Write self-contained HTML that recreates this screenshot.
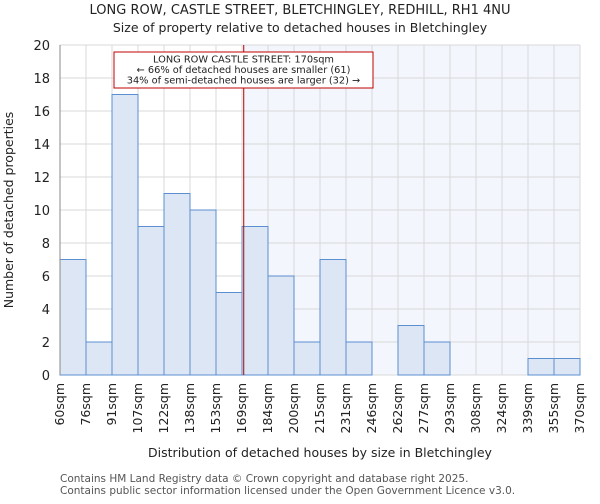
<!DOCTYPE html>
<html><head><meta charset="utf-8"><style>
body{margin:0;background:#fff;font-family:"DejaVu Sans","Liberation Sans",sans-serif}
svg text{font-family:"DejaVu Sans","Liberation Sans",sans-serif;fill:#222}
</style></head><body>
<svg id="chart" width="600" height="500" xmlns="http://www.w3.org/2000/svg">
<text x="300" y="14" text-anchor="middle" font-size="13">LONG ROW, CASTLE STREET, BLETCHINGLEY, REDHILL, RH1 4NU</text>
<text x="300" y="32" text-anchor="middle" font-size="12.5">Size of property relative to detached houses in Bletchingley</text>
<g id="plot"></g>
<text x="320" y="457" text-anchor="middle" font-size="12.5">Distribution of detached houses by size in Bletchingley</text>
<text transform="translate(13,210) rotate(-90)" text-anchor="middle" font-size="12.5">Number of detached properties</text>
<text x="60" y="482" font-size="10.5" style="fill:#555">Contains HM Land Registry data © Crown copyright and database right 2025.</text>
<text x="60" y="494" font-size="10.5" style="fill:#555">Contains public sector information licensed under the Open Government Licence v3.0.</text>
</svg>
<script>
const binLabels=["60sqm","76sqm","91sqm","107sqm","122sqm","138sqm","153sqm","169sqm","184sqm","200sqm","215sqm","231sqm","246sqm","262sqm","277sqm","293sqm","308sqm","324sqm","339sqm","355sqm","370sqm"];
const binEdges=[60,76,91,107,122,138,153,169,184,200,215,231,246,262,277,293,308,324,339,355,370];
const counts=[7,2,17,9,11,10,5,9,6,2,7,2,0,3,2,0,0,0,1,1];
const yTicks=[0,2,4,6,8,10,12,14,16,18,20];
const propertySize=170;
const NS="http://www.w3.org/2000/svg";
const L=60,R=580,T=45,B=375;
const n=counts.length, bw=(R-L)/n;
function xi(i){return L+i*bw;}
function xv(v){let i=0;while(i<n-1&&v>binEdges[i+1])i++;return xi(i)+(v-binEdges[i])/(binEdges[i+1]-binEdges[i])*bw;}
function y(v){return B-(v/20)*(B-T);}
const g=document.getElementById('plot');
function mk(t,a){const e=document.createElementNS(NS,t);for(const k in a)e.setAttribute(k,a[k]);g.appendChild(e);return e;}
const px=xv(propertySize);
const sh=mk('rect',{x:px,y:T,width:R-px,height:B-T,fill:'#f3f6fd'});


for(let i=0;i<=n;i++){const l=mk('line',{x1:xi(i),x2:xi(i),y1:T,y2:B,stroke:'#d8d8d8','stroke-width':1});

}
yTicks.forEach(v=>{const l=mk('line',{x1:L,x2:R,y1:y(v),y2:y(v),stroke:'#d8d8d8','stroke-width':1});


const t=mk('text',{x:L-10,y:y(v)+5,'text-anchor':'end','font-size':13});t.textContent=v;

});
counts.forEach((c,i)=>{if(c<=0)return;const r=mk('rect',{x:xi(i),y:y(c),width:bw,height:B-y(c),fill:'#dce6f5',stroke:'#5b8fd0','stroke-width':1});

});
binLabels.forEach((s,i)=>{const x=xi(i)+4;const t=mk('text',{transform:`translate(${x},${B+8}) rotate(-90)`,'text-anchor':'end','font-size':12.5});t.textContent=s;

});
const ax=mk('line',{x1:L,x2:L,y1:T,y2:B,stroke:'#888'});


const ml=mk('line',{x1:px,x2:px,y1:T,y2:B,stroke:'#b00000','stroke-width':1});


const box=mk('rect',{x:114,y:52,width:259,height:36,fill:'#fff',stroke:'#c00000','stroke-width':1});


["LONG ROW CASTLE STREET: 170sqm","← 66% of detached houses are smaller (61)","34% of semi-detached houses are larger (32) →"].forEach((s,k)=>{
const t=mk('text',{x:243.5,y:62.5+k*10.5,'text-anchor':'middle','font-size':9.8});t.textContent=s;

});
</script>
</body></html>
